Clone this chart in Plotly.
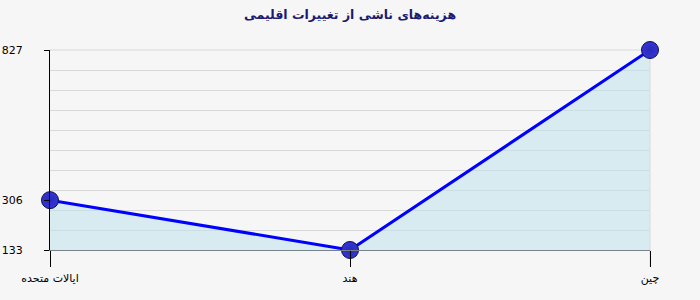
import plotly.graph_objects as go

categories = ["ایالات متحده", "هند", "چین"]
values = [306, 133, 827]
y_ticks = [133, 306, 827]
title_text = "هزینه‌های ناشی از تغییرات اقلیمی"

fig = go.Figure()
fig.add_trace(go.Scatter(
    x=categories, y=values, mode="lines+markers",
    fill="tozeroy", fillcolor="rgba(190,225,235,0.55)",
    line=dict(color="#0000ff", width=3),
    marker=dict(size=17, color="#3434d8",
                line=dict(color="#10104a", width=1),
                gradient=dict(type="radial", color="#2a2ab8")),
    cliponaxis=False, hoverinfo="skip",
))

fig.add_shape(type="line", xref="x domain", yref="paper", x0=1, x1=1, y0=1, y1=-0.083,
              line=dict(color="#d8d8d8", width=1), layer="below")
fig.add_shape(type="line", xref="x domain", yref="y domain", x0=0, x1=1, y0=1, y1=1,
              line=dict(color="#d9d9d9", width=1), layer="below")

fig.update_layout(
    width=700, height=300,
    margin=dict(l=50, r=50, t=50, b=50),
    paper_bgcolor="#f6f6f6", plot_bgcolor="#f6f6f6",
    showlegend=False,
    font=dict(family="DejaVu Sans", size=11, color="#000000"),
    title=dict(text="<b>" + title_text + "</b>", x=0.5, xanchor="center",
               y=0.95, yanchor="middle",
               font=dict(family="DejaVu Sans", size=12.5, color="#1a1a70")),
    xaxis=dict(type="category", range=[0, 2], showgrid=False, zeroline=False,
               showline=True, linecolor="#78828a", linewidth=1, automargin=False,
               ticks="outside", ticklen=16, tickcolor="#000000", tickwidth=1,
               ticklabelstandoff=2, tickfont=dict(size=11)),
    yaxis=dict(range=[133, 827], tickvals=y_ticks, showgrid=False, zeroline=False,
               showline=True, linecolor="#000000", linewidth=1, automargin=False,
               ticks="outside", ticklen=5, tickcolor="#000000",
               ticklabelstandoff=19, tickfont=dict(size=11),
               minor=dict(tick0=133, dtick=69.4, showgrid=True,
                          gridcolor="#d9d9d9", gridwidth=1, ticks="")),
)

fig.write_html("out.html")
